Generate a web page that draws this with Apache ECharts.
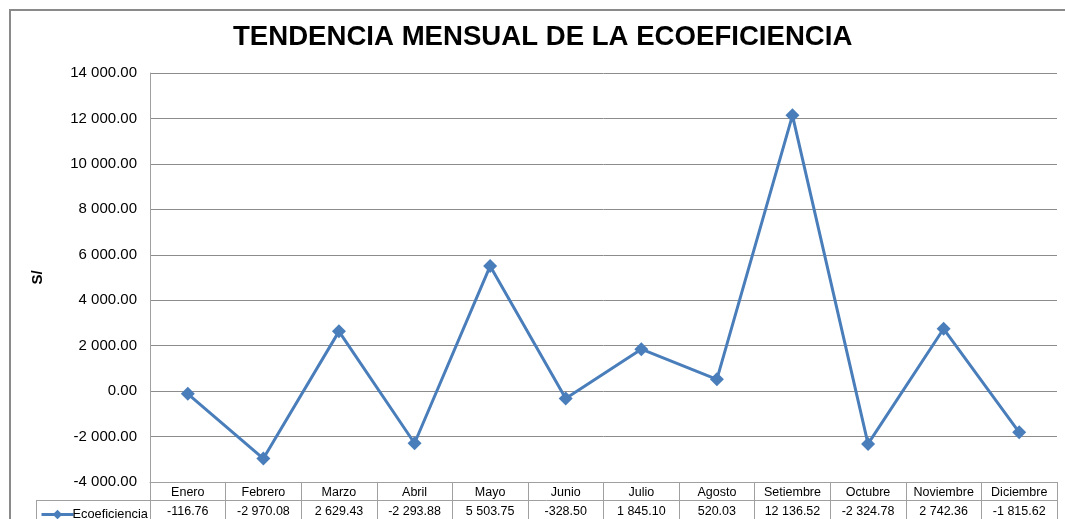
<!DOCTYPE html>
<html>
<head>
<meta charset="utf-8">
<script src="https://cdn.jsdelivr.net/npm/echarts@6/dist/echarts.min.js"></script>
<style>
html,body{margin:0;padding:0;background:#fff;}
#c{width:1065px;height:519px;}
</style>
</head>
<body>
<div id="c"></div>
<script>
const months = ['Enero','Febrero','Marzo','Abril','Mayo','Junio','Julio','Agosto','Setiembre','Octubre','Noviembre','Diciembre'];
const ecoeficiencia = [-116.76, -2970.08, 2629.43, -2293.88, 5503.75, -328.50, 1845.10, 520.03, 12136.52, -2324.78, 2742.36, -1815.62];
const seriesName = 'Ecoeficiencia';
const titleText = 'TENDENCIA MENSUAL DE LA ECOEFICIENCIA';
const yTitle = 'S/';
const yMin = -4000, yMax = 14000, yStep = 2000;

function fmt(v){
  v = Number(v);
  const neg = v < 0;
  const s = Math.abs(v).toFixed(2);
  let [i, d] = s.split('.');
  i = i.replace(/\B(?=(\d{3})+(?!\d))/g, ' ');
  return (neg ? '-' : '') + i + '.' + d;
}

const font = 'Liberation Sans, Arial, sans-serif';
const grid = {left:150, right:8, top:73, bottom:37};
const chart = echarts.init(document.getElementById('c'));
chart.setOption({
  animation:false,
  backgroundColor:'#fff',
  title:{text:titleText, left:228, top:18, textStyle:{fontFamily:font, fontSize:27.6, fontWeight:'bold', color:'#000'}},
  legend:{data:[seriesName], left:35, top:503, itemWidth:32, itemHeight:12, itemGap:4,
    lineStyle:{width:3},
    textStyle:{fontFamily:font, fontSize:12.8, color:'#000', padding:[0,0,0,-6]}},
  grid:grid,
  xAxis:[{
    type:'category', data:months, boundaryGap:true, position:'bottom',
    axisLine:{show:true, onZero:false, lineStyle:{color:'#a0a0a0', width:1}},
    axisTick:{show:true, interval:0, length:37, lineStyle:{color:'#a0a0a0'}},
    axisLabel:{interval:0, margin:4, fontFamily:font, fontSize:12.5, color:'#000'}
  },{
    type:'category', data:ecoeficiencia.map(String), boundaryGap:true, position:'bottom', offset:19,
    axisLine:{show:false, onZero:false}, axisTick:{show:false},
    axisLabel:{interval:0, margin:4, fontFamily:font, fontSize:12.5, color:'#000', formatter:fmt}
  }],
  yAxis:{
    type:'value', min:yMin, max:yMax, interval:yStep,
    name:yTitle, nameLocation:'middle', nameGap:105, nameRotate:90,
    nameTextStyle:{fontFamily:font, fontSize:15, fontWeight:'bold', color:'#000'},
    axisLine:{show:true, lineStyle:{color:'#a0a0a0'}},
    axisTick:{show:false},
    axisLabel:{margin:13, fontFamily:font, fontSize:15, color:'#000', formatter:fmt},
    splitLine:{show:true, lineStyle:{color:'#8c8c8c', width:1}}
  },
  series:[{
    name:seriesName, type:'line', data:ecoeficiencia, xAxisIndex:0,
    symbol:'diamond', symbolSize:14,
    lineStyle:{color:'#4a7ebb', width:3},
    itemStyle:{color:'#4a7ebb'}
  }],
  graphic:[
    {type:'rect', shape:{x:10, y:10, width:1070, height:530}, style:{fill:'none', stroke:'#8a8a8a', lineWidth:2}, silent:true},
    {type:'line', shape:{x1:36, y1:500.5, x2:1057, y2:500.5}, style:{stroke:'#a0a0a0', lineWidth:1}, silent:true},
    {type:'line', shape:{x1:36.5, y1:500, x2:36.5, y2:519}, style:{stroke:'#a0a0a0', lineWidth:1}, silent:true}
  ]
});
</script>
</body>
</html>
